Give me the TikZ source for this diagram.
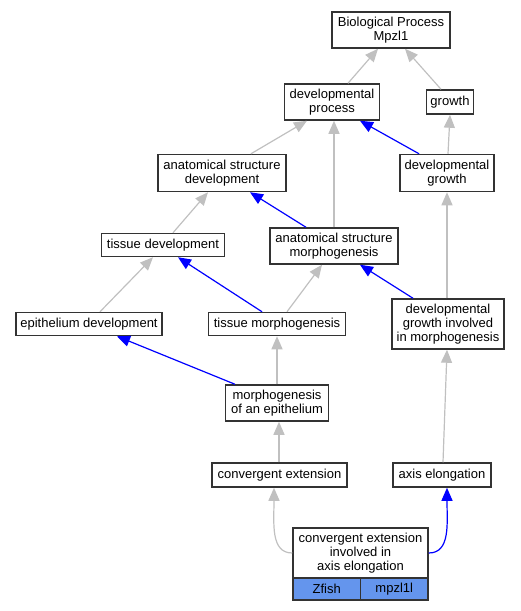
\documentclass[tikz,border=0pt]{standalone}
\usepackage{fontspec}
\setmainfont{Liberation Sans}
\usetikzlibrary{arrows.meta}
\definecolor{edgegray}{HTML}{C0C0C0}
\definecolor{boxline}{HTML}{333333}
\definecolor{cellblue}{HTML}{6495ED}
\begin{document}
\begin{tikzpicture}[x=1pt,y=-1pt,
  box/.style={draw=boxline,line width=1.5pt,fill=white,rectangle,align=center,inner sep=0pt,
    font=\fontsize{13}{14}\selectfont},
  cell/.style={box,fill=cellblue},
  isa/.style={draw=edgegray,line width=1.2pt,-{Triangle[length=13pt,width=11pt]}},
  partof/.style={draw=blue,line width=1.2pt,-{Triangle[length=13pt,width=11pt]}}]
\useasboundingbox (0,0) rectangle (520,611);
\node[box,minimum width=118pt,minimum height=36pt] (bp) at (391,30) {Biological Process\\Mpzl1};
\node[box,minimum width=95pt,minimum height=36pt] (dp) at (332,102) {developmental\\process};
\node[box,minimum width=47pt,minimum height=24pt] (gr) at (450,102) {growth};
\node[box,minimum width=128pt,minimum height=37pt] (asd) at (222,173) {anatomical structure\\development};
\node[box,minimum width=94pt,minimum height=37pt] (dg) at (447,173) {developmental\\growth};
\node[box,minimum width=123pt,minimum height=23pt] (td) at (163,245) {tissue development};
\node[box,minimum width=128pt,minimum height=36pt] (asm) at (334,246) {anatomical structure\\morphogenesis};
\node[box,minimum width=146pt,minimum height=23pt] (ed) at (89,324) {epithelium development};
\node[box,minimum width=137pt,minimum height=23pt] (tm) at (277,324) {tissue morphogenesis};
\node[box,minimum width=112pt,minimum height=50pt] (dgim) at (448,324) {developmental\\growth involved\\in morphogenesis};
\node[box,minimum width=103pt,minimum height=36pt] (moe) at (277,403) {morphogenesis\\of an epithelium};
\node[box,minimum width=135pt,minimum height=24pt] (ce) at (279.5,475) {convergent extension};
\node[box,minimum width=98pt,minimum height=24pt] (ae) at (442,475) {axis elongation};
\node[box,minimum width=135pt,minimum height=50pt] (cea) at (360.5,553) {convergent extension\\involved in\\axis elongation};
\node[cell,minimum width=67.5pt,minimum height=22pt] (zf) at (326.75,589) {Zfish};
\node[cell,minimum width=67.5pt,minimum height=22pt] (mz) at (394.25,589) {mpzl1l};
% edges
\draw[isa] ([xshift=16pt]dp.north) -- ([xshift=-13pt]bp.south);
\draw[isa] ([xshift=-9pt]gr.north) -- ([xshift=14pt]bp.south);
\draw[isa] ([xshift=29pt]asd.north) -- ([xshift=-25pt]dp.south);
\draw[isa] (asm.north) -- (asm.north |- dp.south);
\draw[partof] ([xshift=-28pt]dg.north) -- ([xshift=28pt]dp.south);
\draw[isa] ([xshift=1pt]dg.north) -- (gr.south);
\draw[isa] ([xshift=10pt]td.north) -- ([xshift=-14pt]asd.south);
\draw[partof] ([xshift=-28pt]asm.north) -- ([xshift=28pt]asd.south);
\draw[isa] ([xshift=11pt]ed.north) -- ([xshift=-10pt]td.south);
\draw[partof] ([xshift=-15pt]tm.north) -- ([xshift=15pt]td.south);
\draw[isa] ([xshift=10pt]tm.north) -- ([xshift=-12pt]asm.south);
\draw[partof] ([xshift=-35pt]dgim.north) -- ([xshift=26pt]asm.south);
\draw[isa] ([xshift=-1pt]dgim.north) -- ([xshift=-1pt]dgim.north |- dg.south);
\draw[partof] ([xshift=-42pt]moe.north) -- ([xshift=28pt]ed.south);
\draw[isa] (moe.north) -- (moe.north |- tm.south);
\draw[isa] ([xshift=-0.5pt]ce.north) -- ([xshift=-0.5pt]ce.north |- moe.south);
\draw[isa] ([xshift=1pt]ae.north) -- ([xshift=-1pt]dgim.south);
\draw[isa] (cea.west) .. controls +(-22,0) and +(0,35) .. ([xshift=-5.5pt]ce.south);
\draw[partof] (cea.east) .. controls +(22,0) and +(0,35) .. ([xshift=5pt]ae.south);
\end{tikzpicture}
\end{document}
